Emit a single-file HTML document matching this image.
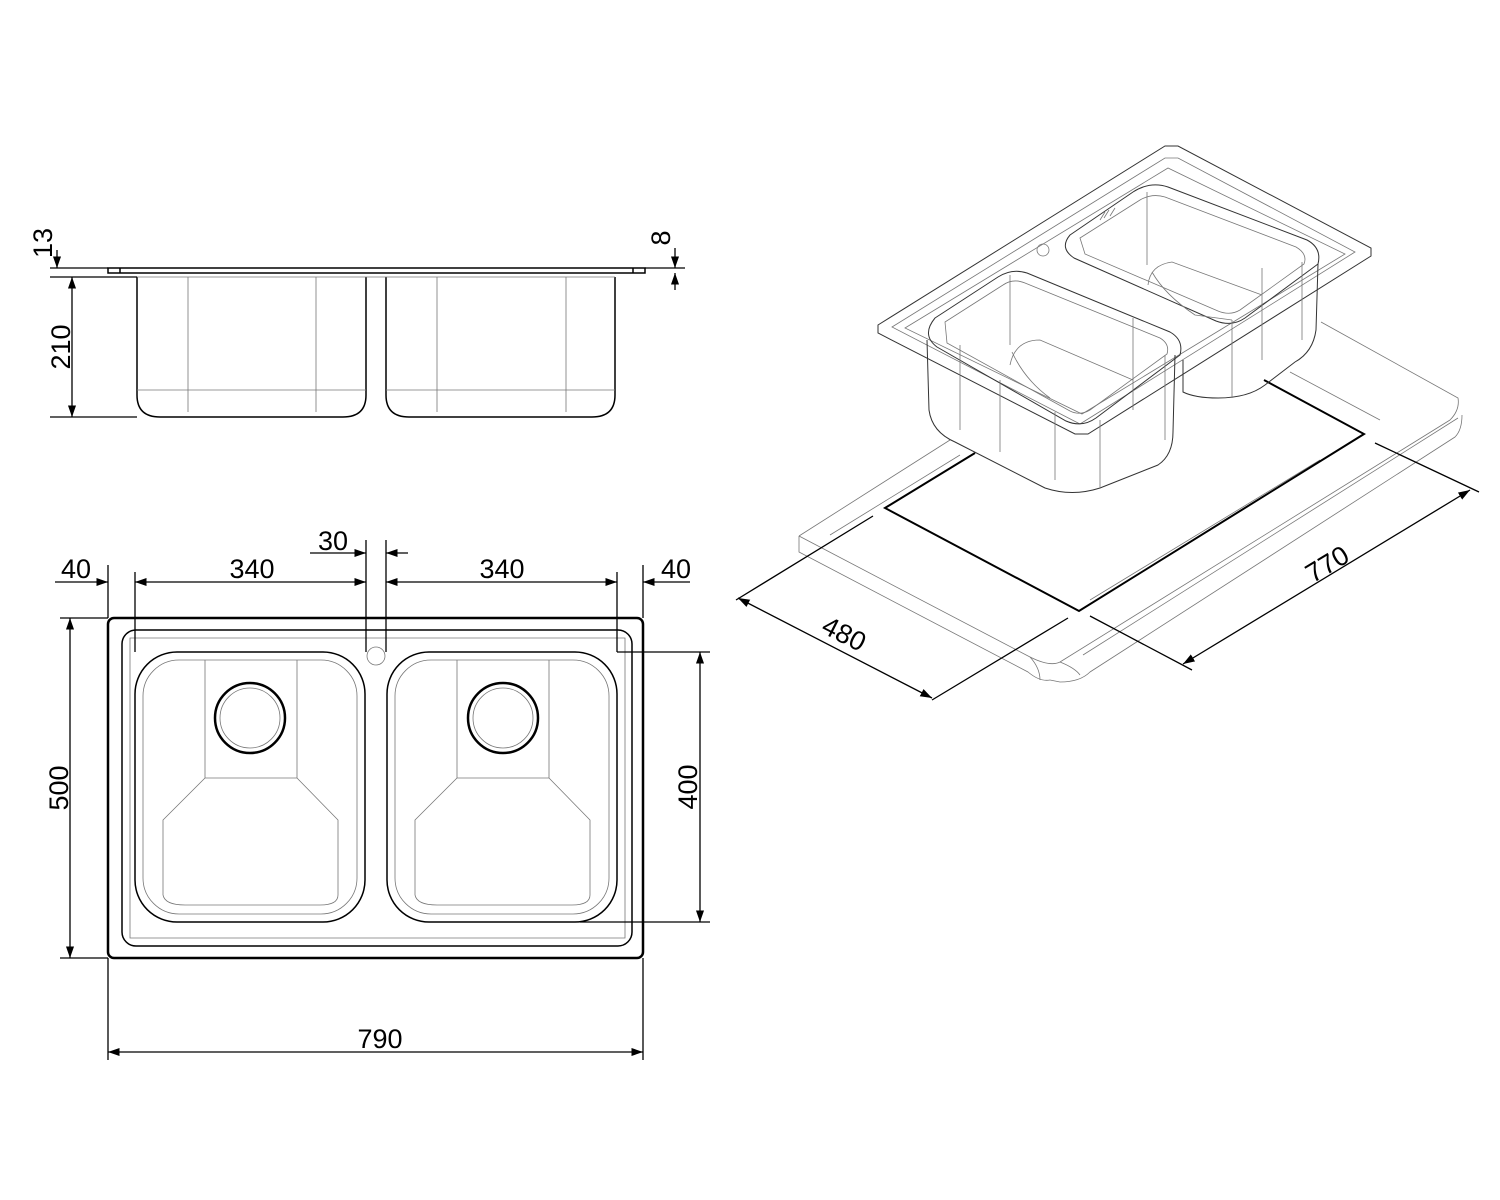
<!DOCTYPE html>
<html><head><meta charset="utf-8"><style>
html,body{margin:0;padding:0;background:#fff}
svg{display:block}
text{font-family:"Liberation Sans",sans-serif;font-size:27px;fill:#000}
.t{stroke:#000;stroke-width:2.5;fill:none}
.m{stroke:#000;stroke-width:1.5;fill:none}
.f{stroke:#777;stroke-width:0.8;fill:none}
.g{stroke:#333;stroke-width:1;fill:none}
.d{stroke:#000;stroke-width:1.3;fill:none}
.c{stroke:#000;stroke-width:2;fill:none}
</style></head><body>
<svg width="1500" height="1200" viewBox="0 0 1500 1200" xmlns="http://www.w3.org/2000/svg">
<defs>
<marker id="a" viewBox="0 0 10 10" refX="10" refY="5" markerWidth="9" markerHeight="9" orient="auto-start-reverse"><path d="M0,1.5 L10,5 L0,8.5 z" fill="#000"/></marker>
</defs>

<!-- SIDE VIEW -->
<path class="m" d="M108,268 L645,268 L645,273 L108,273 Z"/>
<path class="m" d="M120,268 L120,273 M633,268 L633,273"/>
<path class="m" d="M137,277 L137,395 Q137,417 160,417 L343,417 Q366,417 366,395 L366,277"/>
<path class="m" d="M386,277 L386,395 Q386,417 409,417 L592,417 Q615,417 615,395 L615,277"/>
<path class="f" d="M137,277 L366,277 M386,277 L615,277 M188,277 L188,412 M316,277 L316,412 M437,277 L437,412 M566,277 L566,412 M137,390 L366,390 M386,390 L615,390 M366,277 L386,277"/>
<path class="d" d="M50,268 L108,268 M50,277 L137,277 M50,417 L137,417 M645,268 L685,268"/>
<path class="d" d="M57,250 L57,268" marker-end="url(#a)"/>
<line class="d" x1="72" y1="277" x2="72" y2="417" marker-start="url(#a)" marker-end="url(#a)"/>
<path class="d" d="M675,248 L675,268" marker-end="url(#a)"/>
<path class="d" d="M675,290 L675,273" marker-end="url(#a)"/>
<text transform="translate(52,243) rotate(-90)" text-anchor="middle">13</text>
<text transform="translate(70,347) rotate(-90)" text-anchor="middle">210</text>
<text transform="translate(670,238) rotate(-90)" text-anchor="middle">8</text>

<!-- TOP VIEW -->
<rect class="t" x="108" y="618" width="535" height="340" rx="6"/>
<rect class="m" x="122" y="630" width="510" height="316" rx="14"/>
<path class="f" d="M130,638 L625,638 L625,938 L130,938 Z"/>
<rect class="m" x="135" y="652" width="230" height="270" rx="42"/>
<rect class="m" x="387" y="652" width="230" height="270" rx="42"/>
<rect class="f" x="143" y="660" width="214" height="254" rx="36"/>
<rect class="f" x="395" y="660" width="214" height="254" rx="36"/>
<path class="f" d="M205,660 L205,778 L163,820 L163,895 M297,660 L297,778 L338,820 L338,895 M205,778 L297,778 M163,895 Q165,905 185,905 L320,905 Q338,905 338,895"/>
<path class="f" d="M457,660 L457,778 L415,820 L415,895 M549,660 L549,778 L590,820 L590,895 M457,778 L549,778 M415,895 Q417,905 437,905 L572,905 Q590,905 590,895"/>
<circle class="t" cx="250" cy="718" r="35"/><circle class="f" cx="250" cy="718" r="30"/>
<circle class="t" cx="503" cy="718" r="35"/><circle class="f" cx="503" cy="718" r="30"/>
<circle class="f" cx="376" cy="656" r="9"/>
<path class="d" d="M108,565 L108,618 M135,572 L135,652 M366,540 L366,652 M386,540 L386,652 M617,572 L617,652 M643,565 L643,618"/>
<line class="d" x1="135" y1="582" x2="366" y2="582" marker-start="url(#a)" marker-end="url(#a)"/>
<line class="d" x1="386" y1="582" x2="617" y2="582" marker-start="url(#a)" marker-end="url(#a)"/>
<path class="d" d="M55,582 L108,582" marker-end="url(#a)"/>
<path class="d" d="M690,582 L643,582" marker-end="url(#a)"/>
<path class="d" d="M310,553 L366,553" marker-end="url(#a)"/>
<path class="d" d="M408,553 L386,553" marker-end="url(#a)"/>
<text x="252" y="578" text-anchor="middle">340</text>
<text x="502" y="578" text-anchor="middle">340</text>
<text x="76" y="578" text-anchor="middle">40</text>
<text x="676" y="578" text-anchor="middle">40</text>
<text x="333" y="550" text-anchor="middle">30</text>
<path class="d" d="M60,618 L108,618 M60,958 L108,958 M617,652 L710,652 M580,922 L710,922 M108,958 L108,1060 M643,958 L643,1060"/>
<line class="d" x1="70" y1="618" x2="70" y2="958" marker-start="url(#a)" marker-end="url(#a)"/>
<line class="d" x1="700" y1="652" x2="700" y2="922" marker-start="url(#a)" marker-end="url(#a)"/>
<line class="d" x1="108" y1="1052" x2="643" y2="1052" marker-start="url(#a)" marker-end="url(#a)"/>
<text transform="translate(68,788) rotate(-90)" text-anchor="middle">500</text>
<text transform="translate(697,787) rotate(-90)" text-anchor="middle">400</text>
<text x="380" y="1048" text-anchor="middle">790</text>

<!-- ISOMETRIC -->
<!-- countertop -->
<path class="f" d="M799,536 L950,440 M799,536 L799,552 L1028,672 Q1040,682 1050,680 M799,536 L1030,657 Q1050,667 1060,662 L1450,420 Q1460,410 1458,398 L1321,322"/>
<path class="f" d="M1030,657 Q1040,668 1040,680 M1050,680 L1060,682 Q1080,682 1090,672 L1455,437 Q1462,430 1462,415 M1060,662 Q1075,668 1080,675 M1083,655 L1458,418"/>
<path class="f" d="M830,535 L960,455 M1090,600 L1320,460 M1290,372 L1380,420"/>
<path class="c" d="M975,453 L885,508 L1079,611 L1364,434 L1264,380"/>
<!-- sink rim -->
<path class="g" d="M878,325 L1165,146 L1178,146 L1371,248 L1371,256 L1088,434 L1075,434 L878,333 Z"/>
<path class="f" d="M892,327 L1165,158 L1178,158 L1355,252 L1080,424 Z M905,328 L1168,168 L1345,254 L1082,414 Z"/>
<!-- back bowl -->
<path class="g" d="M1070,235 L1133,192 Q1150,181 1168,187 L1307,240 Q1322,248 1318,264 L1245,318 Q1232,327 1216,321 L1074,258 Q1059,248 1070,235 Z"/>
<path class="f" d="M1080,238 L1140,200 Q1152,193 1165,197 L1296,247 Q1308,254 1304,264 L1240,310 Q1230,316 1218,311 L1085,254 Z"/>
<path class="g" d="M1318,264 L1316,330 Q1313,352 1295,362 L1265,385 Q1248,398 1218,398 Q1195,398 1183,392 L1183,360"/>
<path class="f" d="M1147,192 L1147,265 M1262,268 L1262,360 M1232,320 L1232,398 M1148,285 Q1150,265 1172,262 L1262,295 M1152,272 Q1165,295 1195,315 L1232,320 M1302,262 L1302,340"/>
<!-- front bowl -->
<path class="g" d="M935,318 L998,277 Q1012,268 1027,273 L1170,332 Q1184,340 1180,355 L1096,418 Q1082,428 1066,421 L937,347 Q921,335 935,318 Z"/>
<path class="f" d="M945,322 L1003,285 Q1013,278 1025,283 L1160,338 Q1170,344 1167,354 L1090,410 Q1080,416 1070,411 L947,343 Z"/>
<path class="g" d="M927,340 L929,410 Q932,432 955,442 L1045,488 Q1072,497 1100,488 L1158,465 Q1173,455 1173,432 L1175,355"/>
<path class="f" d="M1010,275 L1010,345 M1133,318 L1133,410 M1100,420 L1100,488 M1055,412 L1055,480 M1000,380 L1000,452 M960,345 L960,430 M1165,355 L1165,440 M1010,365 Q1015,340 1040,340 L1133,380 M1012,352 Q1025,380 1050,398"/>
<circle class="f" cx="1043" cy="250" r="6"/>
<path class="f" d="M1100,220 L1105,212 M1104,218 L1109,210 M1110,216 L1115,208"/>
<!-- dims -->
<path class="d" d="M873,516 L736,600 M1068,618 L932,700 M1090,616 L1192,670 M1375,443 L1479,492"/>
<line class="d" x1="738" y1="598" x2="932" y2="698" marker-start="url(#a)" marker-end="url(#a)"/>
<line class="d" x1="1183" y1="664" x2="1470" y2="490" marker-start="url(#a)" marker-end="url(#a)"/>
<text transform="translate(840,642) rotate(27)" text-anchor="middle">480</text>
<text transform="translate(1332,572) rotate(-31)" text-anchor="middle">770</text>
</svg>
</body></html>
